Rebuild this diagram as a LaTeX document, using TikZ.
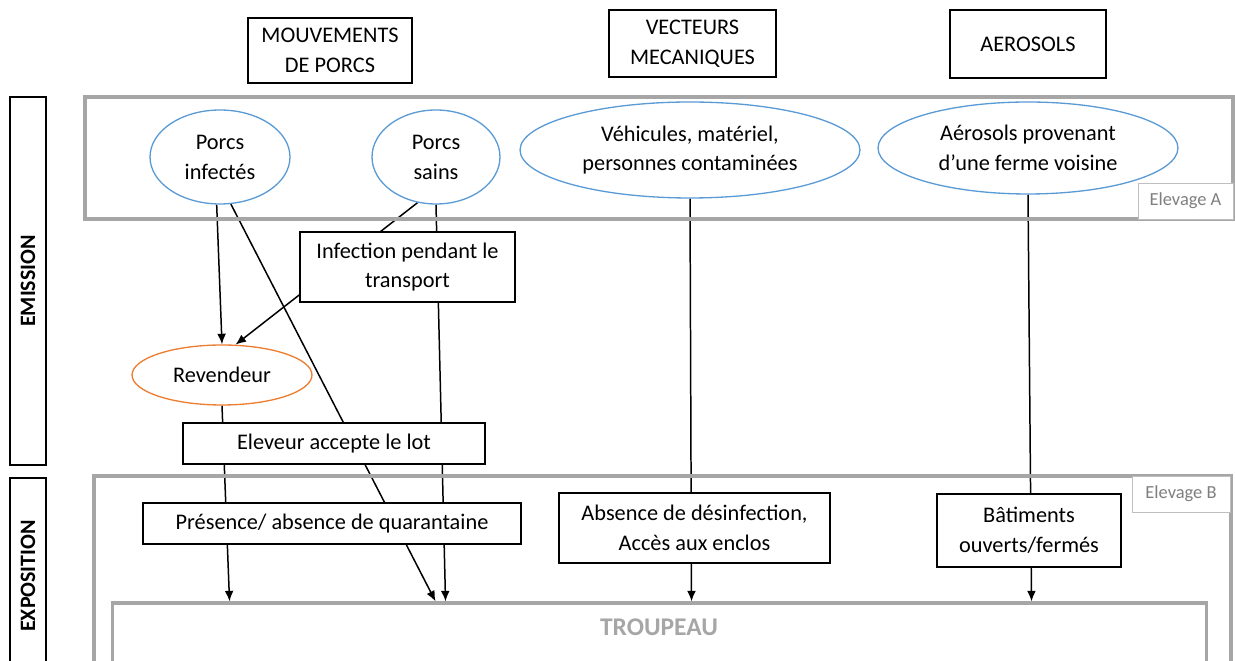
\documentclass[tikz,border=0pt]{standalone}
\usepackage{fontspec}
\setmainfont{Carlito}
\usetikzlibrary{shapes.geometric,calc,backgrounds,arrows.meta}
\definecolor{ovalblue}{HTML}{5B9BD5}
\definecolor{revorange}{HTML}{ED7D31}
\definecolor{framegray}{HTML}{A6A6A6}
\definecolor{taggray}{HTML}{7F7F7F}
\definecolor{tagline}{HTML}{BFBFBF}

\begin{document}
\begin{tikzpicture}[x=0.02cm,y=-0.02cm,>={Latex[length=6pt,width=5pt]},
  every node/.style={font=\fontsize{12.7}{17}\selectfont,align=center,inner sep=0pt},
  box/.style={draw,fill=white,line width=0.75pt},
  oval/.style={ellipse,draw=ovalblue,fill=white,line width=0.75pt},
  frame/.style={draw=framegray,line width=1.8pt},
  tag/.style={draw=tagline,fill=white,line width=0.5pt,text=taggray,
    font=\fontsize{10.5}{12}\selectfont,minimum width=1.9cm,minimum height=0.72cm},
  side/.style={draw,line width=0.75pt,rotate=90,minimum height=0.72cm,
    font=\fontsize{12.5}{14}\selectfont\bfseries},
  link/.style={line width=0.85pt}]
  \useasboundingbox (0,0) rectangle (1235,661);
  \clip (0,0) rectangle (1235,661);

  % categories
  \node[box,minimum width=3.28cm,minimum height=1.30cm] (mvt) at (330,50.5) {MOUVEMENTS\\DE PORCS};
  \node[box,minimum width=3.34cm,minimum height=1.34cm] (vec) at (692.5,43.5) {VECTEURS\\MECANIQUES};
  \node[box,minimum width=3.12cm,minimum height=1.36cm] (aer) at (1028,44) {AEROSOLS};

  % side labels
  \node[side,minimum width=7.36cm] (emi) at (28,281) {EMISSION};
  \node[side,minimum width=3.92cm] (expo) at (28,576) {EXPOSITION};

  % farms
  \draw[frame] (85,97) rectangle (1233,219);
  \node[tag] (ela) at (1185.5,201) {Elevage A};
  \draw[frame] (94,476) rectangle (1231,700);
  \node[tag,minimum width=1.96cm] (elb) at (1181,494) {Elevage B};
  \node[frame,minimum width=21.9cm,minimum height=2cm] (tr) at (659.5,653) {};
  \node[text=framegray,font=\fontsize{14.5}{16}\selectfont\bfseries] (trl) at (659,627) {TROUPEAU};

  % emission
  \node[oval,minimum width=2.80cm,minimum height=1.88cm] (pi) at (220,157) {Porcs\\infectés};
  \node[oval,minimum width=2.56cm,minimum height=1.88cm] (ps) at (436,157) {Porcs\\sains};
  \node[oval,minimum width=6.80cm,minimum height=1.92cm] (veh) at (690,150) {Véhicules, matériel,\\personnes contaminées};
  \node[oval,minimum width=6.00cm,minimum height=1.84cm] (aero) at (1028,148) {Aérosols provenant\\d’une ferme voisine};
  \node[box,minimum width=4.30cm,minimum height=1.40cm] (inf) at (407.5,267) {Infection pendant le\\transport};
  \node[oval,draw=revorange,minimum width=3.60cm,minimum height=1.20cm] (rev) at (222,375) {Revendeur};
  \node[box,minimum width=6.04cm,minimum height=0.82cm] (acc) at (334,443.5) {Eleveur accepte le lot};

  % exposition
  \node[box,minimum width=7.56cm,minimum height=0.82cm] (qua) at (332,523.5) {Présence/ absence de quarantaine};
  \node[box,minimum width=5.42cm,minimum height=1.40cm] (des) at (694.5,528) {Absence de désinfection,\\Accès aux enclos};
  \node[box,minimum width=3.68cm,minimum height=1.46cm] (bat) at (1029,530.5) {Bâtiments\\ouverts/fermés};

  \begin{pgfonlayer}{background}
    \draw[link,->] (pi.266) -- (rev.north);
    \draw[link,->] (pi.283) -- ($(tr.north west)+(325,0)$);
    \draw[link,->] (ps.248) -- (rev.66);
    \draw[link,->] (ps.south) -- ($(tr.north west)+(335,0)$);
    \draw[link,->] (rev.south) -- ($(tr.north west)+(119,0)$);
    \draw[link,->] (veh.south) -- ($(tr.north west)+(581,0)$);
    \draw[link,->] (aero.south) -- ($(tr.north west)+(921,0)$);
  \end{pgfonlayer}
\end{tikzpicture}
\end{document}
